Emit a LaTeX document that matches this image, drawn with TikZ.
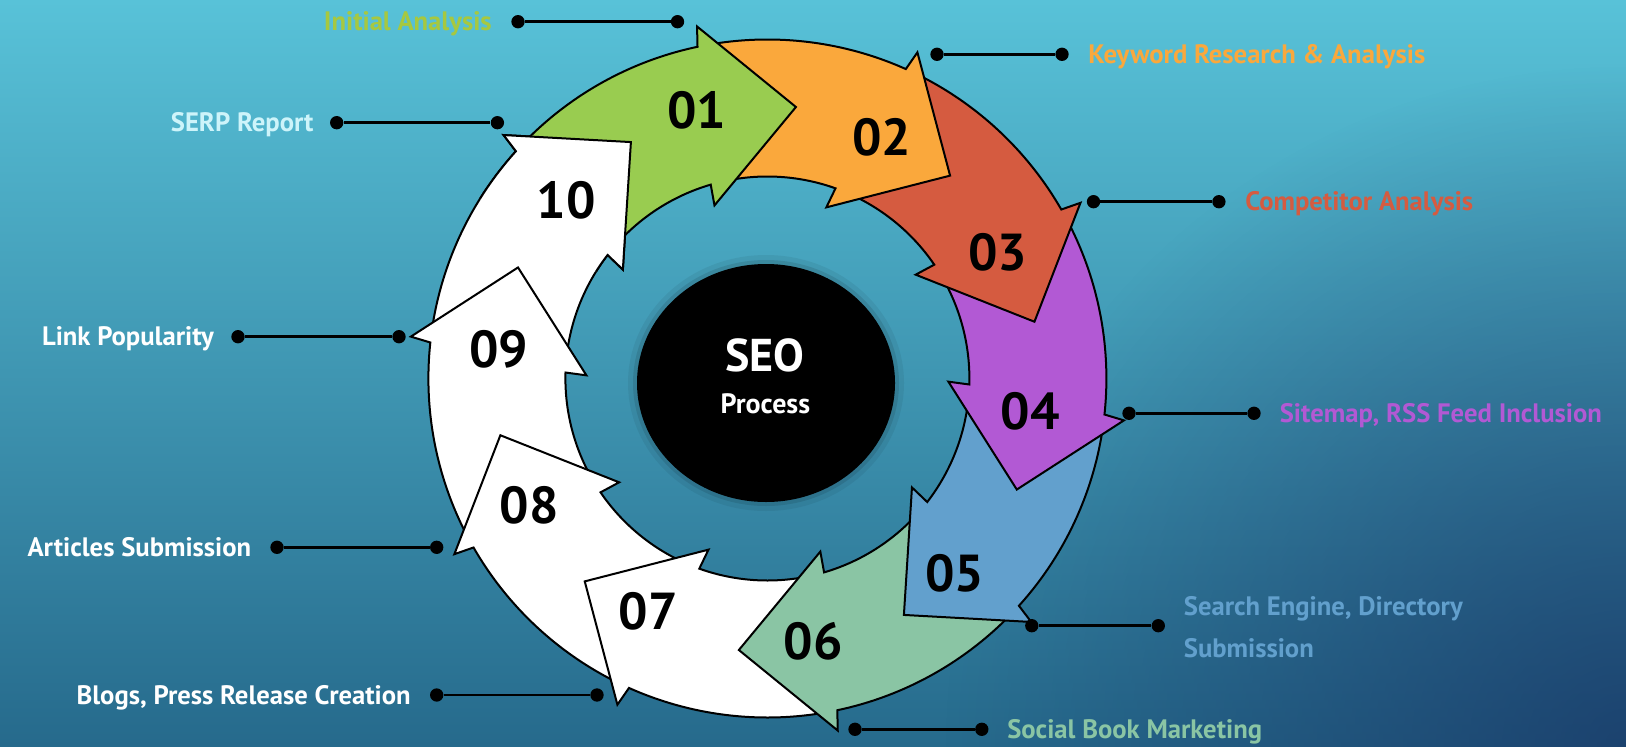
\documentclass[tikz,border=0pt]{standalone}
\usepackage{fontspec}
\setmainfont{PT Sans}
\usetikzlibrary{fadings}

\definecolor{bgTop}{RGB}{88,194,216}
\definecolor{bgMiddle}{RGB}{76,180,204}
\definecolor{bgBottom}{RGB}{38,106,140}
\definecolor{bgNavy}{RGB}{22,45,95}
\definecolor{stepGreen}{RGB}{153,204,80}
\definecolor{stepOrange}{RGB}{250,168,60}
\definecolor{stepRed}{RGB}{213,91,64}
\definecolor{stepPurple}{RGB}{178,89,212}
\definecolor{stepBlue}{RGB}{98,160,205}
\definecolor{stepSea}{RGB}{138,197,164}
\definecolor{labelGreen}{RGB}{166,200,64}
\definecolor{labelPale}{RGB}{205,244,250}

\tikzfading[name=cornerfade, inner color=transparent!35, outer color=transparent!100]

\begin{document}
\begin{tikzpicture}[x=0.75pt,y=0.75pt,yscale=-1,xscale=1,
  ring/.style={draw=black, line width=1.5pt},
  num/.style={font=\bfseries\fontsize{39}{39}\selectfont, inner sep=0pt},
  lbl/.style={font=\bfseries\fontsize{20}{31.5}\selectfont, inner sep=0pt},
  pin/.style={circle, fill=black, inner sep=0pt, minimum size=10pt},
  lead/.style={line width=2.2pt}]

%Background
\useasboundingbox (0,0) rectangle (1626,746);
\shade[top color=bgTop, middle color=bgMiddle, bottom color=bgBottom] (0,0) rectangle (1626,746);
\begin{scope}
\clip (0,0) rectangle (1626,746);
\fill[bgNavy, path fading=cornerfade] (1626,746) circle (680);
\end{scope}

\begin{scope}[shift={(767.4,378.5)}]
%Shape: Arrow 10
\draw[ring, fill=white] (189:339) arc[start angle=189, end angle=222.1, radius=339] -- (222.7:359) -- (240:273) -- (217:181) -- (217.7:202) arc[start angle=217.7, end angle=189, radius=202] -- cycle;
%Shape: Arrow 09
\draw[ring, fill=white] (153:339) arc[start angle=153, end angle=186.1, radius=339] -- (186.7:359) -- (204:273) -- (181:181) -- (181.7:202) arc[start angle=181.7, end angle=153, radius=202] -- cycle;
%Shape: Arrow 08
\draw[ring, fill=white] (117:339) arc[start angle=117, end angle=150.1, radius=339] -- (150.7:359) -- (168:273) -- (145:181) -- (145.7:202) arc[start angle=145.7, end angle=117, radius=202] -- cycle;
%Shape: Arrow 07
\draw[ring, fill=white] (81:339) arc[start angle=81, end angle=114.1, radius=339] -- (114.7:359) -- (132:273) -- (109:181) -- (109.7:202) arc[start angle=109.7, end angle=81, radius=202] -- cycle;
%Shape: Arrow 06
\draw[ring, fill=stepSea] (45:339) arc[start angle=45, end angle=78.1, radius=339] -- (78.7:359) -- (96:273) -- (73:181) -- (73.7:202) arc[start angle=73.7, end angle=45, radius=202] -- cycle;
%Shape: Arrow 05
\draw[ring, fill=stepBlue] (9:339) arc[start angle=9, end angle=42.1, radius=339] -- (42.7:359) -- (60:273) -- (37:181) -- (37.7:202) arc[start angle=37.7, end angle=9, radius=202] -- cycle;
%Shape: Arrow 04
\draw[ring, fill=stepPurple] (-27:339) arc[start angle=-27, end angle=6.1, radius=339] -- (6.7:359) -- (24:273) -- (1:181) -- (1.7:202) arc[start angle=1.7, end angle=-27, radius=202] -- cycle;
%Shape: Arrow 03
\draw[ring, fill=stepRed] (-63:339) arc[start angle=-63, end angle=-29.9, radius=339] -- (-29.3:359) -- (-12:273) -- (-35:181) -- (-34.3:202) arc[start angle=-34.3, end angle=-63, radius=202] -- cycle;
%Shape: Arrow 02
\draw[ring, fill=stepOrange] (-99:339) arc[start angle=-99, end angle=-65.9, radius=339] -- (-65.3:359) -- (-48:273) -- (-71:181) -- (-70.3:202) arc[start angle=-70.3, end angle=-99, radius=202] -- cycle;
%Shape: Arrow 01
\draw[ring, fill=stepGreen] (-135:339) arc[start angle=-135, end angle=-101.9, radius=339] -- (-101.3:359) -- (-84:273) -- (-107:181) -- (-106.3:202) arc[start angle=-106.3, end angle=-135, radius=202] -- cycle;
%Shape: Arrow 10 again, its head lies on the tail of 01
\begin{scope}
\clip (0,0) -- (212:430) arc[start angle=212, end angle=246, radius=430] -- cycle;
\draw[ring, fill=white] (189:339) arc[start angle=189, end angle=222.1, radius=339] -- (222.7:359) -- (240:273) -- (217:181) -- (217.7:202) arc[start angle=217.7, end angle=189, radius=202] -- cycle;
\end{scope}

% Text Node
\node[num] (n01) at (-104.8:276.9) {01};
\node[num] (n02) at (-64.6:266.5) {02};
\node[num] (n03) at (-28.8:262.8) {03};
\node[num] (n04) at (7.2:264.7) {04};
\node[num] (n05) at (46.1:270.4) {05};
\node[num] (n06) at (80.1:266.4) {06};
\node[num] (n07) at (117.2:261.2) {07};
\node[num] (n08) at (151.9:270) {08};
\node[num] (n09) at (186.3:270.2) {09};
\node[num] (n10) at (221.6:268.8) {10};
\end{scope}

%Shape: Circle
\fill[black, opacity=0.06] (766,383) ellipse [x radius=138, y radius=128];
\fill[black, opacity=0.1] (766,383) ellipse [x radius=133, y radius=123];
\fill[black] (766,383) ellipse [x radius=129, y radius=119];
% Text Node
\node[font=\bfseries\fontsize{34.5}{34.5}\selectfont, text=white, inner sep=0pt] (seo) at (765,355.7) {SEO};
% Text Node
\node[font=\bfseries\fontsize{21}{21}\selectfont, text=white, inner sep=0pt] (process) at (765.3,403.3) {Process};

%Straight Lines
\node[pin] (ia1) at (518,21.7) {};
\node[pin] (ia2) at (677.5,21.7) {};
\draw[lead] (ia1) -- (ia2);
%Straight Lines
\node[pin] (kw1) at (937,54.3) {};
\node[pin] (kw2) at (1062,54.3) {};
\draw[lead] (kw1) -- (kw2);
%Straight Lines
\node[pin] (ca1) at (1093.5,201.7) {};
\node[pin] (ca2) at (1218.9,201.7) {};
\draw[lead] (ca1) -- (ca2);
%Straight Lines
\node[pin] (sm1) at (1129,413.3) {};
\node[pin] (sm2) at (1254,413.3) {};
\draw[lead] (sm1) -- (sm2);
%Straight Lines
\node[pin] (se1) at (1031.8,625.7) {};
\node[pin] (se2) at (1158.3,625.7) {};
\draw[lead] (se1) -- (se2);
%Straight Lines
\node[pin] (sb1) at (855,729.3) {};
\node[pin] (sb2) at (981.8,729.3) {};
\draw[lead] (sb1) -- (sb2);
%Straight Lines
\node[pin] (bp1) at (436.7,695) {};
\node[pin] (bp2) at (597,695) {};
\draw[lead] (bp1) -- (bp2);
%Straight Lines
\node[pin] (as1) at (277,547.3) {};
\node[pin] (as2) at (436.7,547.3) {};
\draw[lead] (as1) -- (as2);
%Straight Lines
\node[pin] (lp1) at (238,336.7) {};
\node[pin] (lp2) at (399,336.7) {};
\draw[lead] (lp1) -- (lp2);
%Straight Lines
\node[pin] (sr1) at (336.7,122.7) {};
\node[pin] (sr2) at (497.4,122.7) {};
\draw[lead] (sr1) -- (sr2);

% Text Node
\node[lbl, text=labelGreen, anchor=base east] (initial) at (492,31) {Initial Analysis};
% Text Node
\node[lbl, text=stepOrange, anchor=base west] (keyword) at (1088,63.3) {Keyword Research \& Analysis};
% Text Node
\node[lbl, text=stepRed, anchor=base west] (competitor) at (1245,210.7) {Competitor Analysis};
% Text Node
\node[lbl, text=stepPurple, anchor=base west] (sitemap) at (1279.5,422.3) {Sitemap, RSS Feed Inclusion};
% Text Node
\node[lbl, text=stepBlue, anchor=west, align=left] (search) at (1183.6,627) {Search Engine, Directory\\Submission};
% Text Node
\node[lbl, text=stepSea, anchor=base west] (social) at (1007,738.3) {Social Book Marketing};
% Text Node
\node[lbl, text=white, anchor=base east] (blogs) at (411,704) {Blogs, Press Release Creation};
% Text Node
\node[lbl, text=white, anchor=base east] (articles) at (251.5,556.3) {Articles Submission};
% Text Node
\node[lbl, text=white, anchor=base east] (link) at (214,345.7) {Link Popularity};
% Text Node
\node[lbl, text=labelPale, anchor=base east] (serp) at (313.8,131.7) {SERP Report};

\end{tikzpicture}
\end{document}
